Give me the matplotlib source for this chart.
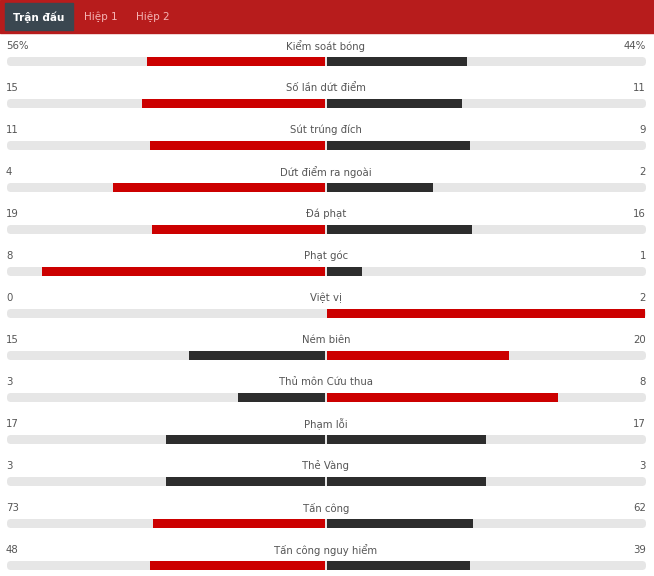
import numpy as np
import matplotlib
matplotlib.use('Agg')
import matplotlib.pyplot as plt
from matplotlib.patches import FancyBboxPatch, Rectangle

# match stats (home left, away right)
labels = ["Kiểm soát bóng", "Số lần dứt điểm", "Sút trúng đích", "Dứt điểm ra ngoài",
          "Đá phạt", "Phạt góc", "Việt vị", "Ném biên", "Thủ môn Cứu thua",
          "Phạm lỗi", "Thẻ Vàng", "Tấn công", "Tấn công nguy hiểm"]
home = [56, 15, 11, 4, 19, 8, 0, 15, 3, 17, 3, 73, 48]
away = [44, 11, 9, 2, 16, 1, 2, 20, 8, 17, 3, 62, 39]
home_txt = ["56%"] + [str(v) for v in home[1:]]
away_txt = ["44%"] + [str(v) for v in away[1:]]
tabs = ["Trận đấu", "Hiệp 1", "Hiệp 2"]

RED = '#cc0000'
DARK = '#2d2d2d'
TRACK = '#e6e6e6'
TXT = '#555555'

W, H = 654, 576
fig = plt.figure(figsize=(W / 100, H / 100), dpi=100)
ax = fig.add_axes([0, 0, 1, 1])
ax.set_xlim(0, W)
ax.set_ylim(H, 0)
ax.axis('off')

# header band + tabs
ax.add_patch(Rectangle((0, 0), W, 33, color='#b71c1c', zorder=1))
ax.add_patch(Rectangle((5, 3), 68, 27, color='#3a4750', zorder=2))
ax.text(39, 17, tabs[0], color='white', fontsize=7.5, fontweight='bold',
        ha='center', va='center', zorder=3)
ax.text(101, 17, tabs[1], color='#f5b5b5', fontsize=7.5, ha='center', va='center', zorder=3)
ax.text(153, 17, tabs[2], color='#f5b5b5', fontsize=7.5, ha='center', va='center', zorder=3)

x0, x1 = 7, 646
cx = 326
half = cx - x0 - 1
bh = 9
for i, lab in enumerate(labels):
    ty = 46 + 42 * i
    by = 61.5 + 42 * i
    ax.text(cx, ty, lab, color=TXT, fontsize=7.3, ha='center', va='center')
    ax.text(x0 - 1, ty, home_txt[i], color=TXT, fontsize=7.3, ha='left', va='center')
    ax.text(x1, ty, away_txt[i], color=TXT, fontsize=7.3, ha='right', va='center')
    ax.add_patch(FancyBboxPatch((x0, by - bh / 2), x1 - x0, bh,
                                boxstyle='round,pad=0,rounding_size=4',
                                fc=TRACK, ec='none', zorder=1))
    tot = home[i] + away[i]
    hw = half * home[i] / tot if tot else 0
    aw = half * away[i] / tot if tot else 0
    hc = RED if home[i] > away[i] else DARK
    ac = RED if away[i] > home[i] else DARK
    ax.barh(by, hw, left=cx - 1 - hw, height=bh, color=hc, zorder=2)
    ax.barh(by, aw, left=cx + 1, height=bh, color=ac, zorder=2)

fig.savefig('out.png', dpi=100)
